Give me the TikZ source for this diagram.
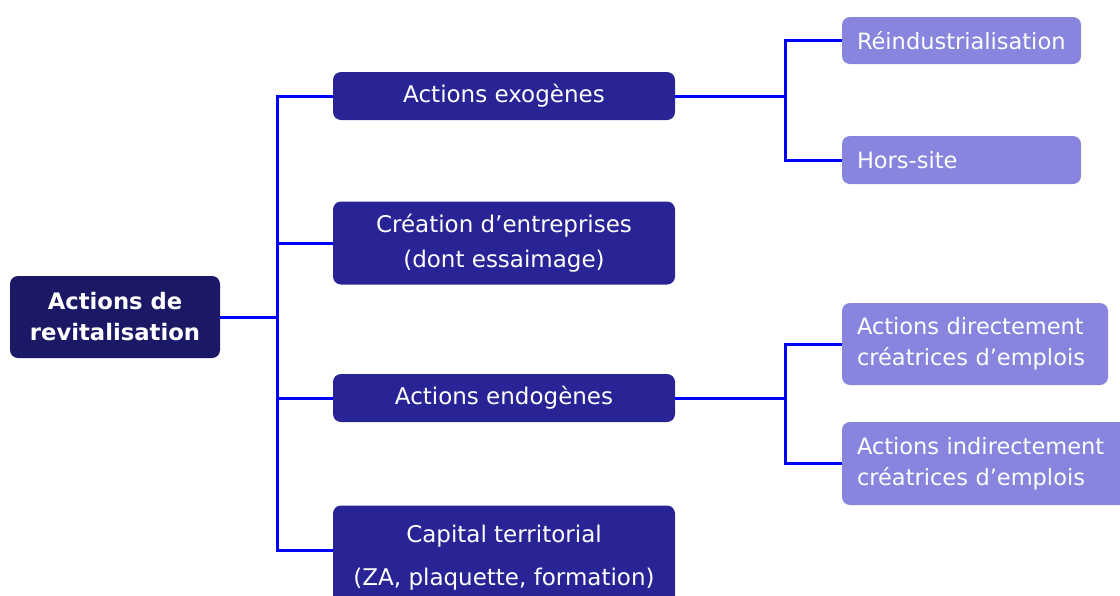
\documentclass[tikz,border=0pt]{standalone}
\usepackage{fontspec}
\setmainfont{DejaVu Sans}
\usepackage{tikz}
\usetikzlibrary{positioning, calc}
\definecolor{rootColor}{RGB}{27,24,102}
\definecolor{mainColor}{RGB}{40,36,150}
\definecolor{subColor}{RGB}{135,133,222}
\definecolor{linkColor}{RGB}{0,0,255}

\begin{document}
\begin{tikzpicture}[
    x=1pt, y=-1pt,
    box/.style={rectangle, rounded corners=8pt, draw=none, text=white, inner sep=0pt, align=center},
    rootbox/.style={box, fill=rootColor, minimum width=210pt, minimum height=82pt, font=\fontsize{22.7}{31}\selectfont\bfseries},
    mainbox/.style={box, fill=mainColor, minimum width=342pt, font=\fontsize{23}{35}\selectfont},
    subbox/.style={box, fill=subColor, align=left, inner xsep=15pt, font=\fontsize{22.5}{31}\selectfont},
    link/.style={draw=linkColor, line width=3pt}
]
    \useasboundingbox (0,0) rectangle (1120,595);

    % Root
    \node[rootbox] (root) at (115,317) {Actions de\\revitalisation};

    % Main actions
    \node[mainbox, minimum height=48pt] (exo) at (504,96) {Actions exogènes};
    \node[mainbox, minimum height=83pt] (crea) at (504,243) {Création d’entreprises\\(dont essaimage)};
    \node[mainbox, minimum height=48pt] (endo) at (504,398) {Actions endogènes};
    \node[mainbox, minimum height=104pt] (cap) at (504,557.5) {Capital territorial\\[8pt](ZA, plaquette, formation)};

    % Sub actions
    \node[subbox, text width=209pt, minimum height=47pt] (reind) at (961.5,40.5) {Réindustrialisation};
    \node[subbox, text width=209pt, minimum height=48pt] (hors) at (961.5,160) {Hors-site};
    \node[subbox, text width=236pt, minimum height=82pt] (direct) at (975,344) {Actions directement\\créatrices d’emplois};
    \node[subbox, text width=262pt, minimum height=83pt] (indirect) at (988,463.5) {Actions indirectement\\créatrices d’emplois};

    % Forks
    \coordinate (rootfork) at ($(root.east)+(57,0)$);
    \coordinate (exofork) at ($(exo.east)+(110,0)$);
    \coordinate (endofork) at ($(endo.east)+(110,0)$);

    % Links - root to main actions
    \draw[link] (root.east) -- (rootfork);
    \foreach \n in {exo, crea, endo}
        \draw[link] (rootfork) |- (\n.west);
    \draw[link] (rootfork) |- ([yshift=7pt]cap.west);

    % Links - main actions to sub actions
    \draw[link] (exo.east) -- (exofork);
    \foreach \n in {reind, hors}
        \draw[link] (exofork) |- (\n.west);
    \draw[link] (endo.east) -- (endofork);
    \foreach \n in {direct, indirect}
        \draw[link] (endofork) |- (\n.west);
\end{tikzpicture}
\end{document}
